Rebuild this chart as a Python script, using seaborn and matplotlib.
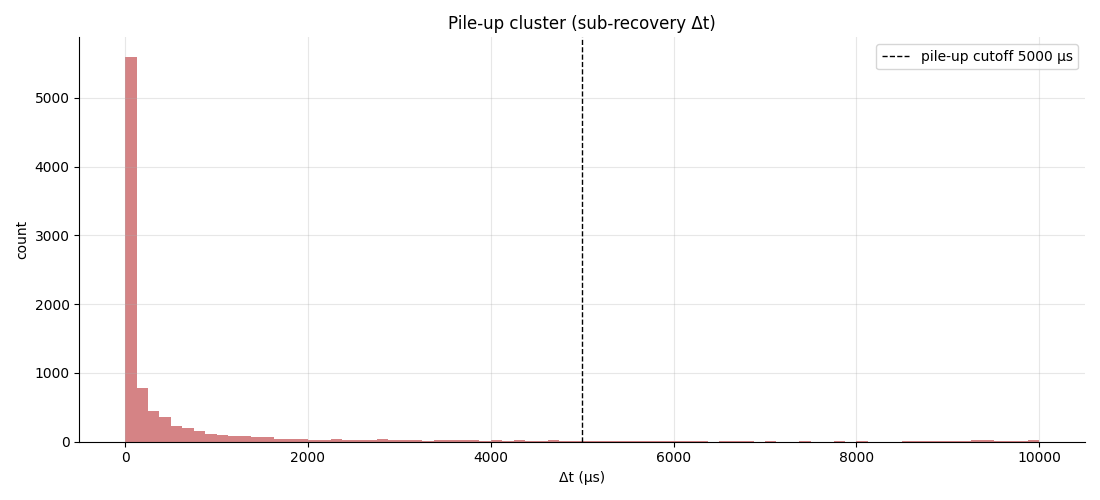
import pandas as pd
import matplotlib
matplotlib.use("Agg")
import matplotlib.pyplot as plt
import seaborn as sns

# histogram of sub-recovery Δt, 80 bins of 125 µs over 0..10000
bin_width = 125
bin_edges = list(range(0, 10001, bin_width))
counts = [
    5600, 785, 450, 360, 232, 203, 160, 116, 102, 88,
    88, 73, 73, 44, 44, 44, 30, 30, 44, 30,
    30, 30, 44, 30, 30, 30, 15, 28, 28, 28,
    28, 15, 28, 15, 28, 15, 15, 28, 12, 12,
    10, 10, 10, 10, 10, 10, 10, 10, 10, 10,
    10, 0, 10, 10, 10, 0, 10, 0, 0, 10,
    0, 0, 10, 0, 10, 0, 0, 0, 10, 10,
    10, 10, 10, 10, 22, 22, 10, 10, 10, 22,
]
cutoff_us = 5000

df = pd.DataFrame({
    "dt": [e + bin_width / 2 for e in bin_edges[:-1]],
    "n": counts,
})

plt.rcParams["font.family"] = ["DejaVu Sans"]

fig, ax = plt.subplots(figsize=(11, 5), dpi=100)
sns.histplot(data=df, x="dt", weights="n", bins=bin_edges, color="#C44E52",
             alpha=0.7, linewidth=0, ax=ax)
ax.axvline(cutoff_us, color="black", linestyle="--", linewidth=1,
           label=f"pile-up cutoff {cutoff_us} µs")
ax.grid(True, alpha=0.3)
ax.set_title("Pile-up cluster (sub-recovery Δt)", fontsize=12)
ax.set_xlabel("Δt (µs)")
ax.set_ylabel("count")
ax.legend(loc="upper right")
sns.despine(ax=ax)
plt.tight_layout()
plt.savefig("out.png")
